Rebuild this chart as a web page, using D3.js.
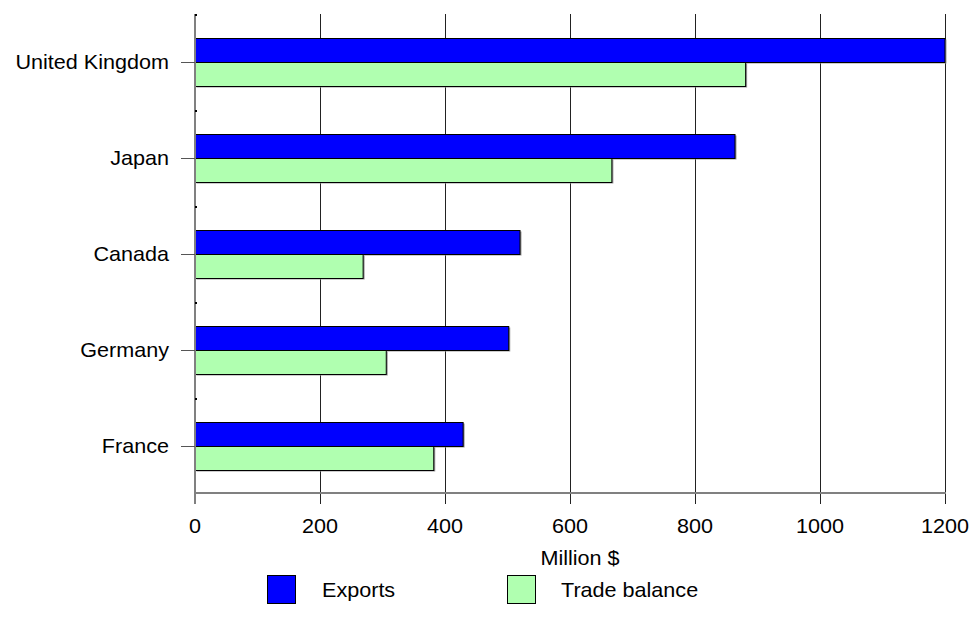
<!DOCTYPE html>
<html><head><meta charset="utf-8">
<script src="https://cdn.jsdelivr.net/npm/d3@7"></script>
<style>body{margin:0;background:#fff}svg{display:block}text{font-family:"Liberation Sans",Arial,sans-serif;fill:#000}</style>
</head><body>
<script>
const categories = ["United Kingdom","Japan","Canada","Germany","France"];
const seriesNames = ["Exports","Trade balance"];
const exportsValues = [1200, 864, 520, 502, 429];
const tradeBalanceValues = [881, 667, 269, 306, 382];
const xTicks = [0,200,400,600,800,1000,1200];
const xTitle = "Million $";
const colors = ["#0000ff","#b0ffb0"];

const W=971,H=629;
const svg=d3.select("body").append("svg").attr("width",W).attr("height",H);
const x=d3.scaleLinear().domain([0,1200]).range([195,945]);
const y=d3.scaleBand().domain(categories).range([14,494]);
const ys=d3.scaleBand().domain(seriesNames).range([24,72]);
const FS="20px";
function txt(sel,px,py,anchor,t){
  return sel.append("text").attr("transform",`translate(${px},${py}) scale(1.08,1)`)
    .attr("text-anchor",anchor).style("font-size",FS).text(t);
}

// gridlines
svg.append("g").selectAll("line").data(xTicks.slice(1)).join("line")
  .attr("x1",d=>x(d)).attr("x2",d=>x(d)).attr("y1",14).attr("y2",504)
  .attr("stroke","#222").attr("stroke-width",1).attr("shape-rendering","crispEdges");

// bars
const data=categories.map((c,i)=>({c,vals:[exportsValues[i],tradeBalanceValues[i]]}));
const g=svg.append("g");
data.forEach(d=>{
  d.vals.forEach((v,j)=>{
    const yy=y(d.c)+ys(seriesNames[j]);
    g.append("rect").attr("x",x(0)+1.5).attr("y",yy+1.5).attr("width",x(v)-x(0)).attr("height",ys.bandwidth())
      .attr("fill","#999");
  });
  d.vals.forEach((v,j)=>{
    const yy=y(d.c)+ys(seriesNames[j]);
    g.append("rect").attr("x",x(0)+0.5).attr("y",yy+0.5).attr("width",x(v)-x(0)-0.5).attr("height",ys.bandwidth())
      .attr("fill",colors[j]).attr("stroke","#000").attr("stroke-width",1);
  });
});

// axes
svg.append("line").attr("x1",195).attr("x2",195).attr("y1",14).attr("y2",504).attr("stroke","#808080").attr("stroke-width",2);
svg.append("line").attr("x1",195).attr("x2",946).attr("y1",493).attr("y2",493).attr("stroke","#808080").attr("stroke-width",2);
// y ticks
svg.append("g").selectAll("line").data(categories).join("line")
  .attr("x1",181).attr("x2",195).attr("y1",d=>Math.round(y(d)+ys("Trade balance"))+0.5).attr("y2",d=>Math.round(y(d)+ys("Trade balance"))+0.5)
  .attr("stroke","#555").attr("stroke-width",1);
// small dots at band edges
svg.append("g").selectAll("rect").data(categories).join("rect")
  .attr("x",195).attr("y",d=>y(d)).attr("width",2).attr("height",2).attr("fill","#000");

// y labels
const yl=svg.append("g");
categories.forEach(c=>txt(yl,169,y(c)+ys("Trade balance")+7,"end",c));
// x labels
const xl=svg.append("g");
xTicks.forEach(t=>txt(xl,x(t),533,"middle",t));
txt(svg,580,565,"middle",xTitle);

// legend
const legX=[267,507], legTX=[322,561];
seriesNames.forEach((s,i)=>{
  svg.append("rect").attr("x",legX[i]+0.5).attr("y",575.5).attr("width",28).attr("height",28)
    .attr("fill",colors[i]).attr("stroke","#000");
  txt(svg,legTX[i],597,"start",s);
});
</script>
</body></html>
